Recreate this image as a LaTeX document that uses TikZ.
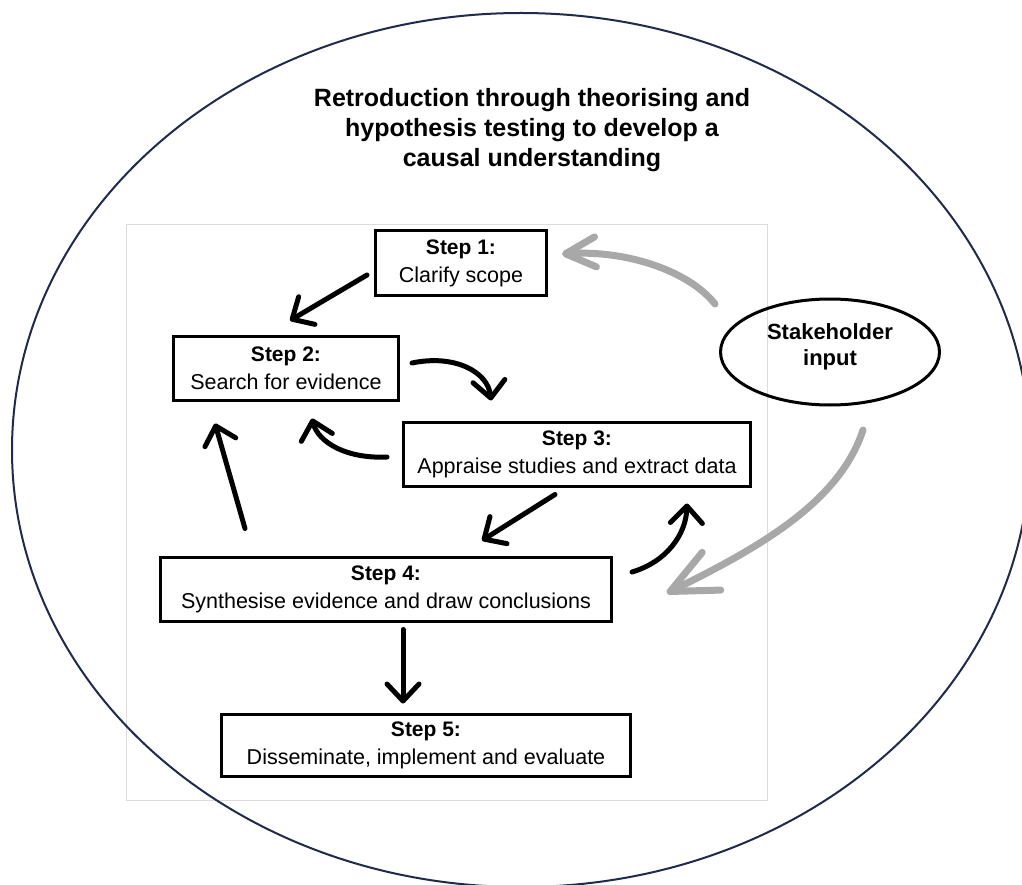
\documentclass[tikz,border=0pt]{standalone}
\usepackage{fontspec}
\setmainfont{Liberation Sans}
\usetikzlibrary{arrows.meta,calc,shapes.geometric}

\definecolor{rimblue}{HTML}{1F2B4A}
\definecolor{panelgrey}{HTML}{DCDCDC}
\definecolor{brushgrey}{HTML}{A8A8A8}

% bold first line of each step box
\newcommand\stephead[1]{\textbf{\fontsize{21}{28}\selectfont Step #1:}}

\begin{document}
\begin{tikzpicture}[x=1pt,y=-1pt,
  stepbox/.style={draw=black, line width=3pt, rectangle, align=center, inner sep=0pt,
    minimum height=64pt, font=\fontsize{21.5}{28}\selectfont},
  titletext/.style={align=center, inner sep=0pt, font=\fontsize{25}{30}\selectfont\bfseries},
  stake/.style={draw=black, line width=3pt, ellipse, align=center, inner sep=0pt,
    minimum width=219pt, minimum height=106pt, text depth=15pt,
    font=\fontsize{22}{26}\selectfont\bfseries},
  flow/.style={line width=5pt, line cap=round, line join=round,
    -{Straight Barb[length=17pt 0, width=32pt 0, round]}},
  brush/.style={draw=brushgrey, line width=7pt, line cap=round, line join=round}
]
\useasboundingbox (0,0) rectangle (1022,885);
\fill[white] (0,0) rectangle (1022,885);

% inner panel holding the five steps
\draw[panelgrey, line width=1pt] (126,225) rectangle (767,800);

% outer ellipse
\draw[rimblue, line width=2pt] (521,450) ellipse [x radius=509pt, y radius=437pt];

\node[titletext] (title) at (532,130)
  {Retroduction through theorising and\\hypothesis testing to develop a\\causal understanding};

% steps
\node[stepbox, minimum width=171pt] (s1) at (461,263) {\stephead{1}\\Clarify scope};
\node[stepbox, minimum width=225pt] (s2) at (286,368) {\stephead{2}\\Search for evidence};
\node[stepbox, minimum width=347pt] (s3) at (577,454) {\stephead{3}\\Appraise studies and extract data};
\node[stepbox, minimum width=451pt] (s4) at (386,589) {\stephead{4}\\Synthesise evidence and draw conclusions};
\node[stepbox, minimum width=409pt, minimum height=62pt] (s5) at (426,745) {\stephead{5}\\Disseminate, implement and evaluate};

\node[stake] (sh) at (830,352) {Stakeholder\\input};

% black flow arrows
\draw[flow] ($(s1.west)+(-7,12)$) -- ($(s2.north)+(4,-14)$);
\draw[flow] ($(s2.east)+(12,-5)$) .. controls (455,354) and (488,372) .. ($(s3.north west)+(89,-20)$);
\draw[flow] ($(s3.west)+(-15,3)$) .. controls (346,459) and (318,442) .. ($(s2.south)+(26,17)$);
\draw[flow] ($(s4.north)+(-141,-27)$) -- ($(s2.south)+(-71,22)$);
\draw[flow] ($(s3.south)+(-22,7)$) -- ($(s4.north)+(96,-15)$);
\draw[flow] ($(s4.east)+(19,-17)$) .. controls (666,562) and (686,535) .. ($(s3.south)+(110,16)$);
\draw[flow] ($(s4.south)+(17,7)$) -- ($(s5.north)+(-23,-9)$);

% grey stakeholder arrows
\draw[brush, -{Straight Barb[length=30pt 0, width=30pt 0, round]}]
  ($(sh.center)+(-115,-48)$) .. controls (688,270) and (625,250) .. ($(s1.east)+(14,-9)$);
\draw[brush, -{Straight Barb[length=46pt 0, width=42pt 0, round]}]
  ($(sh.center)+(33,78)$) .. controls (840,500) and (765,545) .. ($(s4.east)+(54,4)$);
\end{tikzpicture}
\end{document}
